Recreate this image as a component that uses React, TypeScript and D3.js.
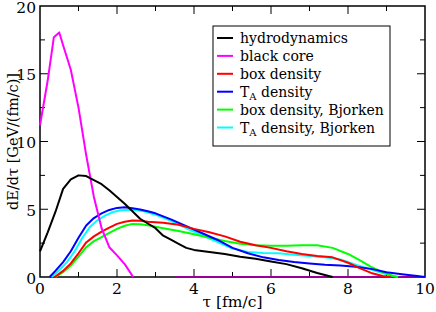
import React, { useEffect, useRef } from 'react';
import * as d3 from 'd3';

// tau [fm/c] and dE/dtau [GeV/(fm/c)]
const hydroTau = [0, 0.2, 0.4, 0.6, 0.8, 1.0, 1.2, 1.4, 1.6, 1.8, 2.0, 2.2, 2.4, 2.6, 2.8, 3.0, 3.2, 3.4, 3.6, 3.8, 4.0, 4.4, 4.8, 5.2, 5.6, 6.0, 6.4, 6.8, 7.2, 7.6];
const hydroDE = [1.9, 3.3, 4.8, 6.5, 7.2, 7.5, 7.45, 7.15, 6.85, 6.4, 5.9, 5.4, 4.85, 4.3, 3.95, 3.6, 3.05, 2.75, 2.45, 2.15, 2.0, 1.85, 1.7, 1.5, 1.35, 1.15, 0.95, 0.65, 0.3, 0.0];

const coreTau = [0, 0.2, 0.36, 0.5, 0.6, 0.8, 1.0, 1.2, 1.4, 1.6, 1.8, 2.0, 2.2, 2.42];
const coreDE = [11.2, 14.5, 17.7, 18.05, 17.1, 15.3, 12.5, 9.0, 5.9, 3.6, 2.2, 1.6, 0.95, 0.0];

const coreTailTau = [3.5, 10];
const coreTailDE = [0, 0];

const boxTau = [0.38, 0.6, 0.8, 1.0, 1.2, 1.4, 1.6, 1.8, 2.0, 2.2, 2.4, 2.6, 2.8, 3.2, 3.6, 4.0, 4.4, 4.8, 5.2, 5.6, 6.0, 6.4, 6.8, 7.2, 7.6, 8.0, 8.3, 8.6, 8.9, 9.1];
const boxDE = [0, 0.45, 1.0, 1.75, 2.55, 3.0, 3.35, 3.65, 3.92, 4.08, 4.17, 4.15, 4.08, 4.0, 3.85, 3.55, 3.3, 3.0, 2.6, 2.35, 2.15, 1.9, 1.7, 1.55, 1.45, 1.05, 0.65, 0.3, 0.07, 0];

const taTau = [0.25, 0.4, 0.6, 0.8, 1.0, 1.2, 1.4, 1.6, 1.8, 2.0, 2.2, 2.4, 2.6, 2.8, 3.0, 3.4, 3.8, 4.2, 4.6, 5.0, 5.4, 5.8, 6.2, 6.6, 7.0, 7.4, 7.8, 8.2, 8.6, 9.0, 9.4, 9.8, 10];
const taDE = [0, 0.45, 1.1, 1.9, 2.9, 3.8, 4.35, 4.7, 4.95, 5.1, 5.15, 5.08, 4.98, 4.85, 4.7, 4.25, 3.75, 3.25, 2.75, 2.15, 1.75, 1.45, 1.25, 1.1, 1.0, 0.9, 0.85, 0.76, 0.6, 0.35, 0.2, 0.07, 0];

const boxBjTau = [0.4, 0.6, 0.8, 1.0, 1.2, 1.4, 1.6, 1.8, 2.0, 2.2, 2.4, 2.6, 2.8, 3.2, 3.6, 4.0, 4.4, 4.8, 5.2, 5.6, 6.0, 6.4, 6.8, 7.2, 7.6, 8.0, 8.3, 8.6, 8.9, 9.2, 9.3];
const boxBjDE = [0, 0.35, 0.85, 1.5, 2.2, 2.65, 2.95, 3.25, 3.55, 3.78, 3.92, 3.9, 3.82, 3.6, 3.4, 3.15, 2.9, 2.65, 2.45, 2.35, 2.3, 2.3, 2.35, 2.35, 2.15, 1.7, 1.25, 0.75, 0.35, 0.05, 0];

const taBjTau = [0.3, 0.5, 0.7, 0.9, 1.1, 1.3, 1.5, 1.7, 1.9, 2.1, 2.3, 2.5, 2.7, 3.0, 3.4, 3.8, 4.2, 4.6, 5.0, 5.4, 5.8, 6.2, 6.6, 7.0, 7.4, 7.8, 8.2, 8.6, 9.0, 9.3];
const taBjDE = [0, 0.5, 1.1, 1.9, 2.9, 3.7, 4.2, 4.55, 4.8, 4.92, 4.97, 4.93, 4.85, 4.6, 4.15, 3.6, 3.1, 2.6, 2.1, 1.85, 1.78, 1.75, 1.65, 1.55, 1.45, 1.3, 0.9, 0.55, 0.2, 0];

const xTicks = [0, 2, 4, 6, 8, 10];
const yTicks = [0, 5, 10, 15, 20];

const series = [
  { label: 'hydrodynamics', tau: hydroTau, de: hydroDE, color: '#000000' },
  { label: 'black core', tau: coreTau, de: coreDE, color: '#ff00ff' },
  { label: 'box density', tau: boxTau, de: boxDE, color: '#ff0000' },
  { label: 'T_A density', tau: taTau, de: taDE, color: '#0000ff' },
  { label: 'box density, Bjorken', tau: boxBjTau, de: boxBjDE, color: '#00ff00' },
  { label: 'T_A density, Bjorken', tau: taBjTau, de: taBjDE, color: '#00ffff' },
];
const tail = { tau: coreTailTau, de: coreTailDE, color: '#990099' };

const W = 436, H = 312;
const m = { left: 40, right: 11, top: 6, bottom: 35 };
const FONT = "'DejaVu Serif', 'Liberation Serif', serif";

export default function App() {
  const ref = useRef<SVGSVGElement>(null);

  useEffect(() => {
    const svg = d3.select(ref.current);
    svg.selectAll('*').remove();

    const x = d3.scaleLinear().domain([0, 10]).range([m.left, W - m.right]);
    const y = d3.scaleLinear().domain([0, 20]).range([H - m.bottom, m.top]);

    const line = d3.line<[number, number]>().x(d => x(d[0])).y(d => y(d[1]));
    const pts = (t: number[], v: number[]) => t.map((tt, i) => [tt, v[i]] as [number, number]);

    // frame
    svg.append('rect')
      .attr('x', x(0)).attr('y', y(20))
      .attr('width', x(10) - x(0)).attr('height', y(0) - y(20))
      .attr('fill', 'none').attr('stroke', '#000').attr('stroke-width', 1.5);

    // ticks inward on all four sides
    const xMinor = d3.range(1, 10, 2);
    const yMinor = d3.range(2.5, 20, 5);
    const tk = svg.append('g').attr('stroke', '#000').attr('stroke-width', 1);
    xTicks.slice(1, -1).forEach(v => {
      tk.append('line').attr('x1', x(v)).attr('x2', x(v)).attr('y1', y(0)).attr('y2', y(0) - 8);
      tk.append('line').attr('x1', x(v)).attr('x2', x(v)).attr('y1', y(20)).attr('y2', y(20) + 8);
    });
    xMinor.forEach(v => {
      tk.append('line').attr('x1', x(v)).attr('x2', x(v)).attr('y1', y(0)).attr('y2', y(0) - 5);
      tk.append('line').attr('x1', x(v)).attr('x2', x(v)).attr('y1', y(20)).attr('y2', y(20) + 5);
    });
    yTicks.slice(1, -1).forEach(v => {
      tk.append('line').attr('y1', y(v)).attr('y2', y(v)).attr('x1', x(0)).attr('x2', x(0) + 8);
      tk.append('line').attr('y1', y(v)).attr('y2', y(v)).attr('x1', x(10)).attr('x2', x(10) - 8);
    });
    yMinor.forEach(v => {
      tk.append('line').attr('y1', y(v)).attr('y2', y(v)).attr('x1', x(0)).attr('x2', x(0) + 5);
      tk.append('line').attr('y1', y(v)).attr('y2', y(v)).attr('x1', x(10)).attr('x2', x(10) - 5);
    });

    // curves, drawn over the frame
    const plot = svg.append('g');
    plot.append('path')
      .attr('d', line(pts(tail.tau, tail.de)))
      .attr('fill', 'none').attr('stroke', tail.color).attr('stroke-width', 2);
    [...series].reverse().forEach(s => {
      plot.append('path')
        .attr('d', line(pts(s.tau, s.de)))
        .attr('fill', 'none')
        .attr('stroke', s.color)
        .attr('stroke-width', 2)
        .attr('stroke-linejoin', 'round');
    });

    // tick labels
    svg.append('g').selectAll('text').data(xTicks).enter().append('text')
      .attr('x', d => x(d)).attr('y', y(0) + 17)
      .attr('text-anchor', 'middle')
      .style('font-family', FONT).style('font-size', '15.5px')
      .text(d => d);
    svg.append('g').selectAll('text').data(yTicks).enter().append('text')
      .attr('x', x(0) - 4).attr('y', d => y(d) + 6.5)
      .attr('text-anchor', 'end')
      .style('font-family', FONT).style('font-size', '15.5px')
      .text(d => d);

    // axis titles
    svg.append('text')
      .attr('x', (x(0) + x(10)) / 2).attr('y', H - 5)
      .attr('text-anchor', 'middle')
      .style('font-family', FONT).style('font-size', '15.5px')
      .text('τ [fm/c]');
    svg.append('text')
      .attr('transform', `translate(18,${(y(0) + y(20)) / 2}) rotate(-90)`)
      .attr('text-anchor', 'middle')
      .style('font-family', FONT).style('font-size', '14.5px')
      .text('dE/dτ [GeV/(fm/c)]');

    // legend
    const lg = svg.append('g').attr('transform', 'translate(213,26)');
    lg.append('rect').attr('width', 177).attr('height', 120)
      .attr('fill', '#fff').attr('stroke', '#000').attr('stroke-width', 1);
    series.forEach((s, i) => {
      const cy = 12 + i * 17.9;
      lg.append('line').attr('x1', 4).attr('x2', 20).attr('y1', cy).attr('y2', cy)
        .attr('stroke', s.color).attr('stroke-width', 2);
      const t = lg.append('text').attr('x', 27).attr('y', cy + 5)
        .style('font-family', FONT).style('font-size', '14px');
      if (s.label.startsWith('T_A')) {
        t.append('tspan').text('T');
        t.append('tspan').style('font-size', '10px').attr('dy', 3).text('A');
        t.append('tspan').attr('dy', -3).text(s.label.slice(3));
      } else {
        t.text(s.label);
      }
    });
  }, []);

  return (
    <div style={{ position: 'fixed', left: 0, top: 0 }}>
      <svg ref={ref} width={W} height={H} style={{ display: 'block', background: '#fff' }} />
    </div>
  );
}
